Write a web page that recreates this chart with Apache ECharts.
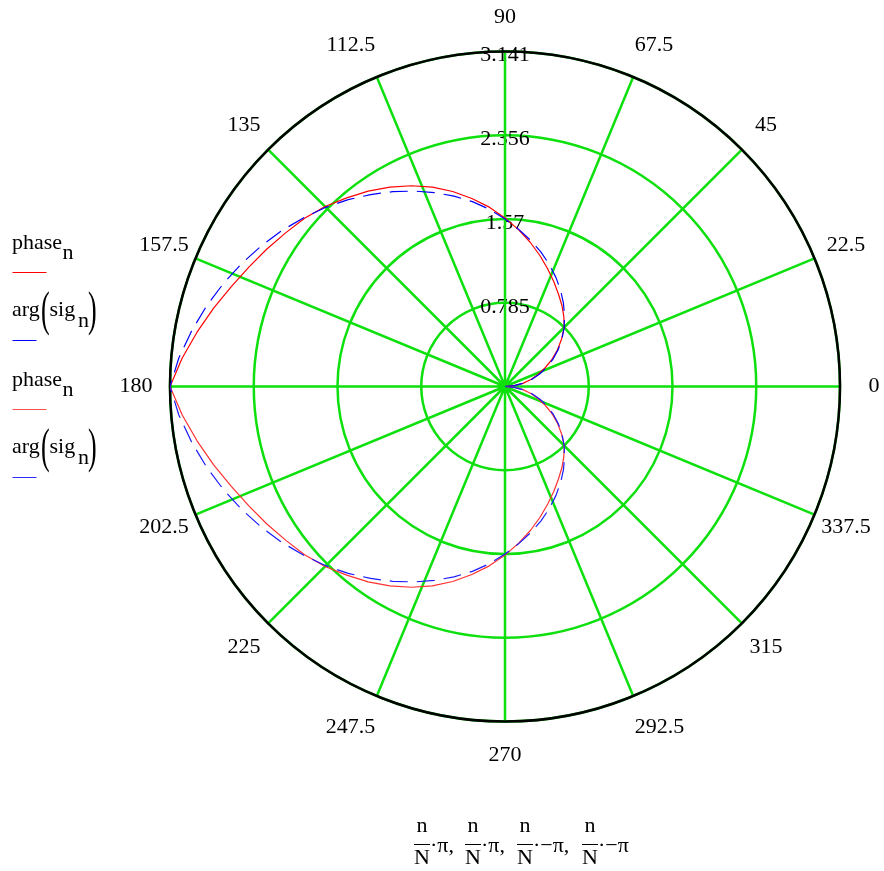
<!DOCTYPE html>
<html>
<head>
<meta charset="utf-8">
<script src="https://cdn.jsdelivr.net/npm/echarts@6/dist/echarts.min.js"></script>
<style>
html, body { margin: 0; padding: 0; background: #fff; }
#chart { width: 884px; height: 871px; }
</style>
</head>
<body>
<div id="chart"></div>
<script>
'use strict'
// sample angles (degrees) of n/N*pi
var angles = [0, 5, 10, 15, 20, 25, 30, 35, 40, 45, 50, 55, 60, 65, 70, 75, 80, 85, 90,
    95, 100, 105, 110, 115, 120, 125, 130, 135, 140, 145, 150, 155, 160, 165, 170, 175, 180];
// phase_n
var phase = [0, 0.087, 0.170, 0.252, 0.329, 0.416, 0.509, 0.601, 0.693, 0.785, 0.858, 0.930,
    1.002, 1.084, 1.172, 1.269, 1.371, 1.474, 1.581, 1.688, 1.790, 1.893, 1.990, 2.077, 2.159,
    2.237, 2.309, 2.386, 2.453, 2.511, 2.578, 2.650, 2.733, 2.830, 2.932, 3.039, 3.141];
// arg(sig_n)
var argSig = [0, 0.087, 0.175, 0.262, 0.349, 0.436, 0.524, 0.611, 0.698, 0.785, 0.868, 0.955,
    1.042, 1.129, 1.217, 1.304, 1.391, 1.479, 1.571, 1.668, 1.760, 1.848, 1.935, 2.022, 2.109,
    2.197, 2.287, 2.376, 2.463, 2.551, 2.638, 2.725, 2.813, 2.900, 2.985, 3.070, 3.141];
var angleLabels = ['90', '112.5', '135', '157.5', '180', '202.5', '225', '247.5',
    '270', '292.5', '315', '337.5', '0', '22.5', '45', '67.5'];
var radiusLabels = ['', '0.785', '1.57', '2.356', '3.141'];

var FONT = 'Liberation Serif';
var FS = 22;
var GREEN = '#0de00d';
var CX = 505, CY = 386.5, R = 335;
var LABEL_MARGIN = 4, LABEL_RADIUS = 369;

var chart = echarts.init(document.getElementById('chart'));

// angle axis starts at 90 so the radius labels sit on the vertical spoke
function wrap(a) {
    return ((a - 90) % 360 + 360) % 360 + 90;
}

function trace(values, sign) {
    return angles.map(function (a, i) {
        return [values[i], wrap(sign * a)];
    });
}

// centre each angle label on a circle, whatever side it is on
var ctx = document.createElement('canvas').getContext('2d');
ctx.font = FS + 'px "' + FONT + '"';
var angleRich = {};
angleLabels.forEach(function (txt, i) {
    var a = (90 + 22.5 * i) * Math.PI / 180;
    var ux = Math.cos(a), uy = -Math.sin(a);
    var px = (R + LABEL_MARGIN) * ux, py = (R + LABEL_MARGIN) * uy;
    var w = ctx.measureText(txt).width, h = FS;
    var hAlign = Math.abs(px) / R < 0.3 ? 'center' : (px > 0 ? 'left' : 'right');
    var vAlign = Math.abs(py) / R < 0.3 ? 'middle' : (py > 0 ? 'top' : 'bottom');
    var ox = hAlign === 'left' ? w / 2 : hAlign === 'right' ? -w / 2 : 0;
    var oy = vAlign === 'top' ? h / 2 : vAlign === 'bottom' ? -h / 2 : 0;
    var sx = LABEL_RADIUS * ux - (px + ox);
    var sy = LABEL_RADIUS * uy - (py + oy);
    var pad = [0, 0, 0, 0];
    if (hAlign === 'left') pad[3] = Math.max(0, sx);
    else if (hAlign === 'right') pad[1] = Math.max(0, -sx);
    else { pad[3] = Math.max(0, 2 * sx); pad[1] = Math.max(0, -2 * sx); }
    if (vAlign === 'top') pad[0] = Math.max(0, sy);
    else if (vAlign === 'bottom') pad[2] = Math.max(0, -sy);
    else { pad[0] = Math.max(0, 2 * sy); pad[2] = Math.max(0, -2 * sy); }
    angleRich['t' + i] = { fontFamily: FONT, fontSize: FS, color: '#000', padding: pad };
});

function txt(s, x, y, size, extra) {
    var el = {
        type: 'text', x: x, y: y,
        style: { text: s, fontFamily: FONT, fontSize: size || FS, fill: '#000', align: 'left', verticalAlign: 'middle' }
    };
    return Object.assign(el, extra || {});
}

// legend: label text above a short line sample
var legendItems = [
    { isArg: false, base: 249.5, lineY: 272.5, len: 34, color: '#ff0000' },
    { isArg: true, base: 317, lineY: 340.5, len: 24, color: '#0000ff' },
    { isArg: false, base: 386.5, lineY: 409.5, len: 34, color: '#ff5050' },
    { isArg: true, base: 454, lineY: 477.5, len: 24, color: '#2a2aff' }
];

var graphics = [];
var MID = 0.305 * FS;
legendItems.forEach(function (it) {
    var y = it.base - MID;
    if (it.isArg) {
        graphics.push(txt('arg', 12, y));
        graphics.push(txt('(', 41, y + 2, 26, { scaleY: 1.86 }));
        graphics.push(txt('sig', 49.5, y));
        graphics.push(txt('n', 78, y + 10.5));
        graphics.push(txt(')', 88, y + 2, 26, { scaleY: 1.86 }));
    } else {
        graphics.push(txt('phase', 12, y));
        graphics.push(txt('n', 62.5, y + 10));
    }
    graphics.push({
        type: 'line',
        shape: { x1: 12.5, y1: it.lineY, x2: 12.5 + it.len, y2: it.lineY },
        style: { stroke: it.color, lineWidth: 1 }
    });
});

// x-axis expression under the plot
var fracs = [
    { x: 422, tail: '\u00b7\u03c0,' },
    { x: 473, tail: '\u00b7\u03c0,' },
    { x: 525, tail: '\u00b7\u2212\u03c0,' },
    { x: 590, tail: '\u00b7\u2212\u03c0' }
];
fracs.forEach(function (f) {
    graphics.push(txt('n', f.x, 833 - MID, FS, { style: { text: 'n', fontFamily: FONT, fontSize: FS, fill: '#000', align: 'center', verticalAlign: 'middle' } }));
    graphics.push({ type: 'line', shape: { x1: f.x - 8, y1: 844.5, x2: f.x + 8, y2: 844.5 },
        style: { stroke: '#000', lineWidth: 1 } });
    graphics.push(txt('N', f.x, 865 - MID, FS, { style: { text: 'N', fontFamily: FONT, fontSize: FS, fill: '#000', align: 'center', verticalAlign: 'middle' } }));
    graphics.push(txt(f.tail, f.x + 8, 853 - MID));
});

var option = {
    animation: false,
    backgroundColor: '#fff',
    polar: {
        center: [CX, CY],
        radius: R
    },
    angleAxis: {
        type: 'value',
        min: 90,
        max: 450,
        interval: 22.5,
        startAngle: 90,
        clockwise: false,
        z: 1,
        axisLine: { show: true, lineStyle: { color: '#000', width: 2.5 } },
        axisTick: { show: false },
        splitLine: { show: true, lineStyle: { color: GREEN, width: 2.5 } },
        axisLabel: {
            margin: LABEL_MARGIN,
            formatter: function (v) {
                var i = Math.round((v - 90) / 22.5);
                if (i >= angleLabels.length) return '';
                return '{t' + i + '|' + angleLabels[i] + '}';
            },
            rich: angleRich
        }
    },
    radiusAxis: {
        type: 'value',
        min: 0,
        max: 3.141,
        interval: 0.78525,
        z: 0,
        axisLine: { show: false },
        axisTick: { show: false },
        splitLine: { show: true, lineStyle: { color: GREEN, width: 2.5 } },
        axisLabel: {
            margin: 0,
            align: 'center',
            verticalAlign: 'middle',
            formatter: function (v) {
                var s = radiusLabels[Math.round(v / 0.78525)] || '';
                return s ? '{r|' + s + '}' : '';
            },
            rich: {
                r: { fontFamily: FONT, fontSize: FS, color: '#000', padding: [8, 0, 0, 0] }
            }
        }
    },
    graphic: graphics,
    series: [
        {
            name: 'phase',
            type: 'line',
            coordinateSystem: 'polar',
            showSymbol: false,
            data: trace(phase, 1),
            lineStyle: { color: '#ff0000', width: 1.2 }
        },
        {
            name: 'arg(sig)',
            type: 'line',
            coordinateSystem: 'polar',
            showSymbol: false,
            data: trace(argSig, 1),
            lineStyle: { color: '#0000ff', width: 1.2, type: [18, 9] }
        },
        {
            name: 'phase -',
            type: 'line',
            coordinateSystem: 'polar',
            showSymbol: false,
            data: trace(phase, -1),
            lineStyle: { color: '#ff3030', width: 1.2 }
        },
        {
            name: 'arg(sig) -',
            type: 'line',
            coordinateSystem: 'polar',
            showSymbol: false,
            data: trace(argSig, -1),
            lineStyle: { color: '#1a1aff', width: 1.2, type: [18, 9] }
        }
    ]
};

chart.setOption(option);
</script>
</body>
</html>
